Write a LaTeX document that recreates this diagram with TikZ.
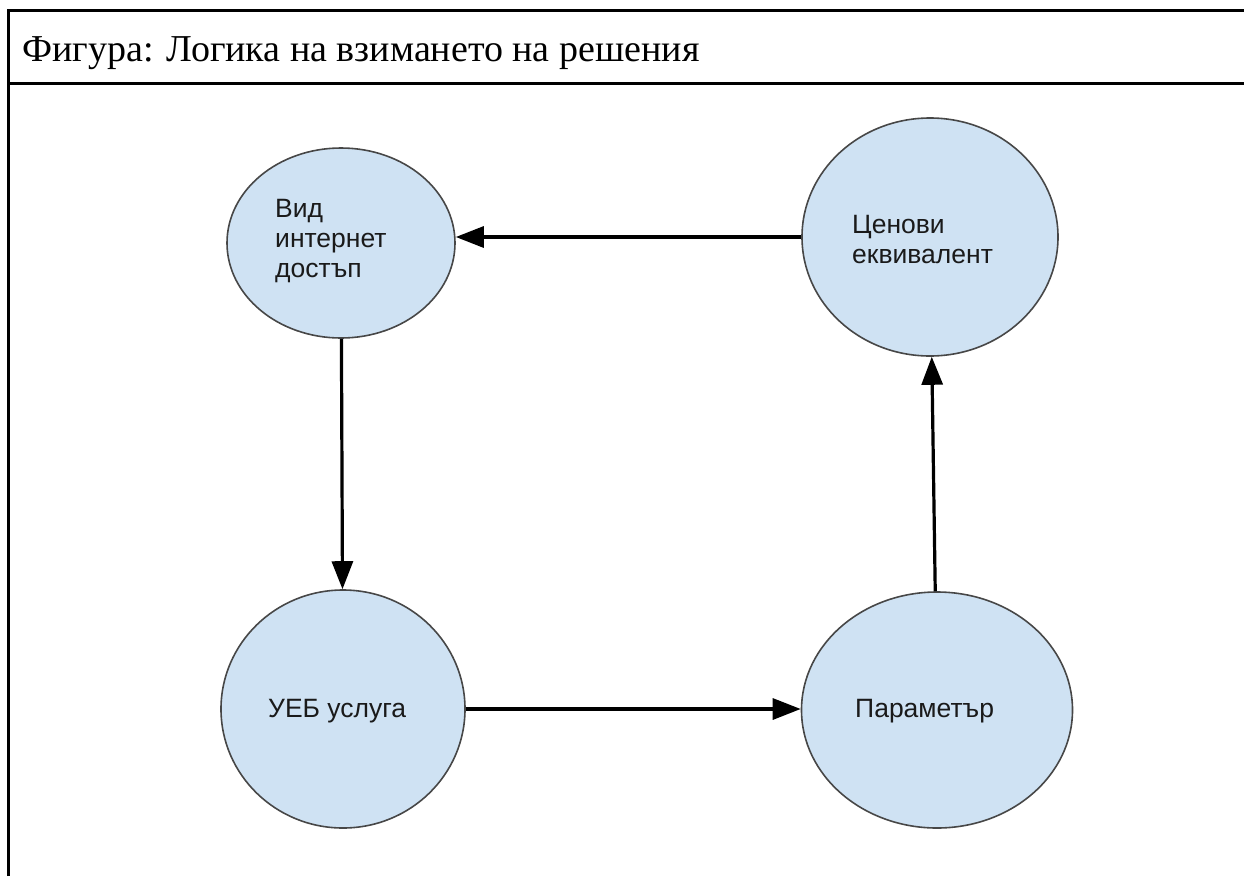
\documentclass[tikz,border=0pt]{standalone}
\usepackage{fontspec}
\setmainfont{Liberation Serif}
\newfontfamily\diagsans{Liberation Sans}
\usetikzlibrary{arrows.meta,shapes.geometric}
\definecolor{bubblefill}{HTML}{CFE2F3}
\definecolor{bubbleedge}{HTML}{474747}
\definecolor{labeltext}{HTML}{1A1A1A}
\tikzset{
  bubble/.style={ellipse, draw=bubbleedge, line width=1.6pt, fill=bubblefill, inner sep=0pt},
  bubbletext/.style={anchor=base west, inner sep=0pt, align=left, text=labeltext,
    font=\diagsans\fontsize{26.5}{30}\selectfont},
  flow/.style={line width=3.2pt, -{Triangle[length=28pt,width=21pt]}},
  frameline/.style={line width=3pt}
}
\begin{document}
\begin{tikzpicture}[x=1pt,y=-1pt]
\useasboundingbox (0,0) rectangle (1244,876);
% frame
\draw[frameline] (8.7,876) -- (8.7,10.5) -- (1244,10.5);
\draw[frameline] (8.7,83) -- (1244,83);
\node[anchor=base west, inner sep=0pt, font=\fontsize{38}{44}\selectfont] (title) at (22,61) {Фигура: Логика на взимането на решения};
% bubbles
\node[bubble, minimum width=228pt, minimum height=190pt] (vid) at (341,243) {};
\node[bubble, minimum width=256pt, minimum height=238pt] (cen) at (930,237) {};
\node[bubble, minimum width=244pt, minimum height=238pt] (ueb) at (343,709) {};
\node[bubble, minimum width=271pt, minimum height=236pt] (par) at (937,710) {};
% labels (anchor = baseline of the last line)
\node[bubbletext] (vidt) at (275,277) {Вид\\интернет\\достъп};
\node[bubbletext] (cent) at (852,263) {Ценови\\еквивалент};
\node[bubbletext] (uebt) at (268,717) {УЕБ услуга};
\node[bubbletext] (part) at (855,717) {Параметър};
% connectors
\draw[flow] (cen.west) -- (vid.east |- cen.west);
\draw[flow] (vid) -- (ueb);
\draw[flow] (ueb.east) -- (par.west |- ueb.east);
\draw[flow] (par) -- (cen);
\end{tikzpicture}
\end{document}
